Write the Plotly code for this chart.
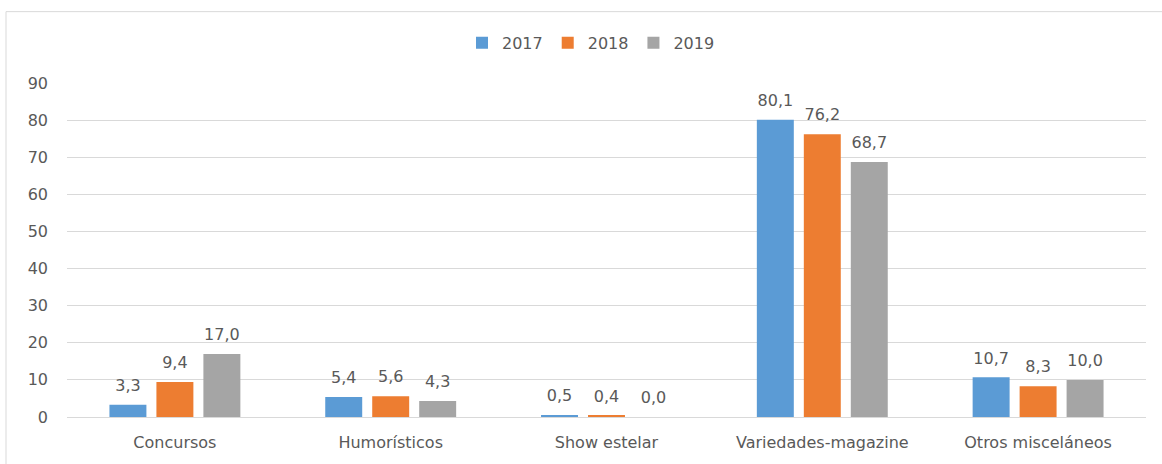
import plotly.graph_objects as go

categories = ["Concursos", "Humorísticos", "Show estelar", "Variedades-magazine", "Otros misceláneos"]
years = ["2017", "2018", "2019"]
v2017 = [3.3, 5.4, 0.5, 80.1, 10.7]
v2018 = [9.4, 5.6, 0.4, 76.2, 8.3]
v2019 = [17.0, 4.3, 0.0, 68.7, 10.0]
colors = ["#5B9BD5", "#ED7D31", "#A5A5A5"]
y_ticks = [0, 10, 20, 30, 40, 50, 60, 70, 80, 90]

FONT = "DejaVu Sans"
FS = 16
TXT = "#595959"

fig = go.Figure()
series = list(zip(years, [v2017, v2018, v2019], colors))
for i, (name, vals, col) in enumerate(series):
    fig.add_trace(go.Bar(
        name=name, x=categories, y=vals, marker_color=col, marker_line_width=0,
        offsetgroup=str(i), hoverinfo="x+y",
    ))
# data labels, grouped the same way as the bars
for i, (name, vals, col) in enumerate(series):
    fig.add_trace(go.Scatter(
        x=categories, y=vals, mode="markers+text", offsetgroup=str(i),
        marker=dict(size=14, color="rgba(0,0,0,0)"),
        text=[f"{v:.1f}".replace(".", ",") for v in vals],
        textposition="top center", textfont=dict(family=FONT, size=FS, color=TXT),
        cliponaxis=False, showlegend=False, hoverinfo="skip",
    ))

W, H = 1162, 464
l, r, t, b = 67, 16, 83, 44
pw, ph = W - l - r, H - t - b

fig.update_layout(
    width=W, height=H,
    margin=dict(l=l, r=r, t=t, b=b),
    paper_bgcolor="white", plot_bgcolor="white",
    barmode="group", bargap=0.347, bargroupgap=0.213,
    scattermode="group", scattergap=0.347,
    font=dict(family=FONT, size=FS, color=TXT),
    legend=dict(orientation="h", x=0.5 - 15.5 / pw, xanchor="center", y=1 + (t - 42.5) / ph, yanchor="middle",
                font=dict(family=FONT, size=FS, color=TXT), itemwidth=30, traceorder="normal"),
    xaxis=dict(showgrid=False, showline=False, ticks="", tickfont=dict(family=FONT, size=FS, color=TXT),
               ticklabelstandoff=14),
    yaxis=dict(range=[0, 90], tickvals=y_ticks, showgrid=True, gridcolor="#D9D9D9", gridwidth=1,
               zeroline=True, zerolinecolor="#D9D9D9", zerolinewidth=1, showline=False, ticks="",
               tickfont=dict(family=FONT, size=FS, color=TXT), ticklabelstandoff=18),
    shapes=[dict(type="rect", xref="paper", yref="paper",
                 x0=(6 - l) / pw, x1=1.2, y0=-0.5, y1=1 + (t - 11) / ph,
                 line=dict(color="#D9D9D9", width=1), fillcolor="rgba(0,0,0,0)", layer="below")],
)

fig.write_html("out.html", post_script="document.body.style.margin='0';",
               config={"displayModeBar": False})
